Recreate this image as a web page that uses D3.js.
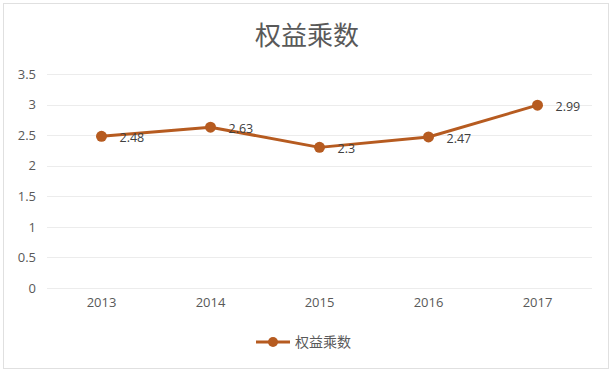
<!DOCTYPE html>
<html><head><meta charset="utf-8">
<script src="https://cdn.jsdelivr.net/npm/d3@7"></script>
<style>body{margin:0;background:#fff;}svg{display:block;font-family:"Noto Sans CJK SC","Open Sans",sans-serif;}</style>
</head><body>
<script>
const categories = ["2013","2014","2015","2016","2017"];
const values = [2.48, 2.63, 2.3, 2.47, 2.99];
const yTicks = [0, 0.5, 1, 1.5, 2, 2.5, 3, 3.5];
const seriesName = "权益乘数";
const title = "权益乘数";

const W = 615, H = 374;
const color = "#b65b20";
const svg = d3.select("body").append("svg").attr("width", W).attr("height", H);
svg.append("rect").attr("x",3.5).attr("y",3.5).attr("width",605).attr("height",365)
  .attr("fill","#fff").attr("stroke","#e0e0e0");

const x = d3.scaleBand().domain(categories).range([47, 592]);
const y = d3.scaleLinear().domain([0, 3.5]).range([288, 74]);

svg.append("text").attr("x", 307).attr("y", 45).attr("text-anchor","middle")
  .attr("font-size", 26).attr("fill","#595959").text(title);

const g = svg.append("g");
g.selectAll("line.grid").data(yTicks).join("line")
  .attr("x1", 47).attr("x2", 592)
  .attr("y1", d => Math.round(y(d))+0.5).attr("y2", d => Math.round(y(d))+0.5)
  .attr("stroke", "#ececec").attr("stroke-width", 1);

const yAxis = d3.axisLeft(y).tickValues(yTicks).tickSize(0).tickPadding(0).tickFormat(d => d);
const ya = svg.append("g").attr("transform","translate(36,0)").call(yAxis);
ya.select(".domain").remove();
ya.selectAll("text").attr("font-size",13).attr("fill","#595959").attr("font-family","'Open Sans',sans-serif");

const xAxis = d3.axisBottom(x).tickSize(0).tickPadding(0);
const xa = svg.append("g").attr("transform","translate(0,298)").call(xAxis);
xa.select(".domain").remove();
xa.selectAll("text").attr("font-size",13).attr("fill","#595959").attr("font-family","'Open Sans',sans-serif");

const cx = d => x(d) + x.bandwidth()/2;
const line = d3.line().x((d,i) => cx(categories[i])).y(d => y(d));
svg.append("path").datum(values).attr("d", line).attr("fill","none")
  .attr("stroke", color).attr("stroke-width", 3).attr("stroke-linejoin","round");
svg.selectAll("circle.pt").data(values).join("circle")
  .attr("cx",(d,i)=>cx(categories[i])).attr("cy", d=>y(d)).attr("r",5.5).attr("fill",color);
svg.selectAll("text.lbl").data(values).join("text")
  .attr("x",(d,i)=>cx(categories[i])+18).attr("y", d=>y(d)+6)
  .attr("font-size",12.5).attr("fill","#404040").attr("font-family","'Open Sans',sans-serif")
  .text(d=>d);

const lg = svg.append("g");
lg.append("line").attr("x1",256).attr("x2",290).attr("y1",342).attr("y2",342).attr("stroke",color).attr("stroke-width",3);
lg.append("circle").attr("cx",273).attr("cy",342).attr("r",5).attr("fill",color);
lg.append("text").attr("x",295).attr("y",347).attr("font-size",14).attr("fill","#595959").text(seriesName);
</script>
</body></html>
